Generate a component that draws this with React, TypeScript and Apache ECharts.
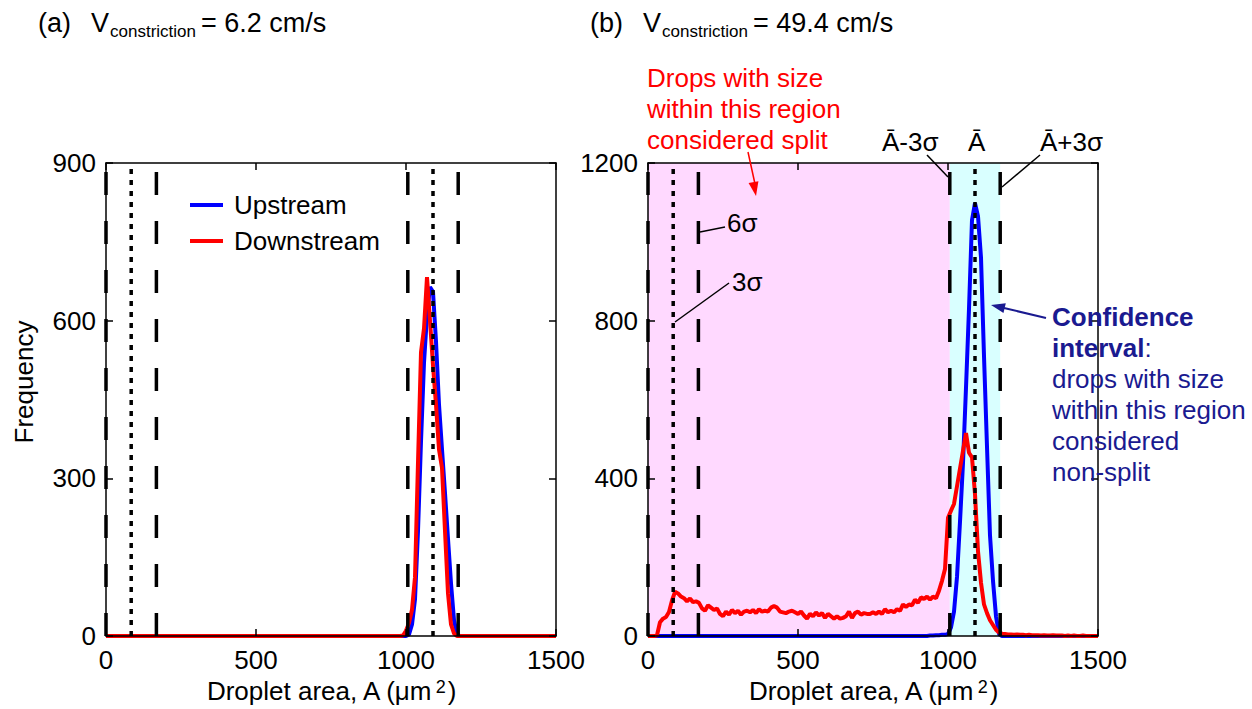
import { useEffect, useRef } from "react";
import * as echarts from "echarts";

const FONT = "'Liberation Sans', Arial, Helvetica, sans-serif";
const PINK = "#FFD9FF";
const CYAN = "#D9FFFF";
const NAVY = "#1A1A90";

// ---- panel (a): V = 6.2 cm/s ----
const leftBins = [0, 980, 990, 1000, 1010, 1020, 1030, 1040, 1050, 1060, 1070, 1080, 1090, 1100, 1110, 1120, 1130, 1140, 1150, 1160, 1170, 1180, 1500];
const leftUpstream = [0, 0, 0, 0, 3, 22, 70, 200, 370, 520, 610, 664, 655, 560, 440, 355, 272, 185, 100, 30, 3, 0, 0];
const leftDownstream = [0, 0, 1, 10, 25, 50, 112, 330, 540, 585, 683, 600, 515, 440, 355, 320, 200, 81, 22, 5, 0, 0, 0];

// ---- panel (b): V = 49.4 cm/s ----
const rightUpBins = [0, 930, 940, 950, 960, 970, 980, 990, 1000, 1010, 1020, 1030, 1040, 1050, 1060, 1070, 1080, 1090, 1100, 1110, 1120, 1130, 1140, 1150, 1160, 1170, 1180, 1500];
const rightUpstream = [0, 0, 1, 1, 2, 2, 3, 3, 5, 22, 62, 150, 290, 439, 630, 830, 1055, 1098, 1065, 960, 710, 480, 255, 140, 50, 5, 0, 0];
// histogram bins of 10 µm² from 0 to 1500
const rightDownBins = Array.from({ length: 151 }, (_, i) => i * 10);
const rightDownstream = [
  0, 0, 0, 2, 35, 44, 48, 61, 90, 112,
  108, 100, 96, 88, 95, 86, 88, 84, 70, 64,
  78, 72, 66, 70, 56, 50, 62, 54, 66, 58,
  64, 54, 62, 64, 60, 66, 58, 68, 62, 64,
  62, 72, 76, 72, 62, 60, 58, 62, 64, 60,
  56, 62, 52, 44, 56, 50, 60, 52, 58, 46,
  56, 50, 44, 50, 44, 46, 50, 62, 46, 58,
  62, 54, 58, 56, 56, 60, 56, 62, 56, 68,
  60, 64, 60, 68, 64, 80, 74, 80, 78, 92,
  84, 98, 94, 100, 92, 100, 96, 115, 140, 170,
  300, 318, 335, 380, 425, 470, 515, 465, 453, 360,
  215, 135, 80, 58, 40, 28, 16, 9, 6, 5,
  4, 4, 3, 4, 3, 3, 2, 3, 2, 2,
  2, 1, 2, 1, 1, 2, 1, 1, 1, 0,
  1, 0, 1, 0, 0, 1, 0, 0, 0, 0,
  0,
];

// reference lines (µm²): 3σ, 6σ, Ā-3σ, Ā, Ā+3σ
const dashedLines = [0, 168, 1006, 1174];
const dottedLines = [84, 1090];
const splitRegion = [0, 1006];
const confidenceRegion = [1006, 1174];

const leftYMax = 900;
const leftYInterval = 300;
const rightYMax = 1200;
const rightYInterval = 400;

const pairs = (xs: number[], ys: number[]) => xs.map((x, i) => [x, ys[i]]);

function buildOption() {
  const axisLine = { show: true, onZero: false, lineStyle: { color: "#000", width: 1.5 } };
  const axisTick = { show: true, inside: true, length: 7, lineStyle: { color: "#000", width: 1.5 } };
  const label = { fontSize: 26, color: "#000", fontFamily: FONT, formatter: (v: number) => String(v) };

  const xBase = {
    type: "value",
    min: 0,
    max: 1500,
    interval: 500,
    axisLine,
    axisTick,
    splitLine: { show: false },
    z: 10,
  };
  const xName = {
    name: "Droplet area, A (μm{sup|2})",
    nameLocation: "middle",
    nameGap: 40,
    nameTextStyle: {
      fontSize: 26,
      color: "#000",
      fontFamily: FONT,
      rich: { sup: { fontSize: 18, color: "#000", fontFamily: FONT, verticalAlign: "top", padding: [0, 2, 0, 3] } },
    },
  };

  const xAxis = [
    { ...xBase, ...xName, gridIndex: 0, position: "bottom", axisLabel: { ...label, margin: 11 } },
    { ...xBase, ...xName, gridIndex: 1, position: "bottom", axisLabel: { ...label, margin: 11 } },
    { ...xBase, gridIndex: 0, position: "top", axisLabel: { show: false } },
    { ...xBase, gridIndex: 1, position: "top", axisLabel: { show: false } },
  ];
  const yBase = { type: "value", min: 0, axisLine, axisTick, splitLine: { show: false }, z: 10 };
  const yAxis = [
    { ...yBase, gridIndex: 0, position: "left", max: leftYMax, interval: leftYInterval, axisLabel: { ...label, margin: 10 } },
    { ...yBase, gridIndex: 1, position: "left", max: rightYMax, interval: rightYInterval, axisLabel: { ...label, margin: 10 } },
    { ...yBase, gridIndex: 0, position: "right", max: leftYMax, interval: leftYInterval, axisLabel: { show: false } },
    { ...yBase, gridIndex: 1, position: "right", max: rightYMax, interval: rightYInterval, axisLabel: { show: false } },
  ];

  const curve = (name: string, color: string, data: number[][], idx: number, z: number) => ({
    type: "line",
    name,
    xAxisIndex: idx,
    yAxisIndex: idx,
    data,
    showSymbol: false,
    symbol: "none",
    z,
    lineStyle: { color, width: 4 },
    itemStyle: { color },
    emphasis: { disabled: true },
  });

  const vline = (x: number, ymax: number, idx: number, dashed: boolean) => ({
    type: "line",
    name: "ref",
    xAxisIndex: idx,
    yAxisIndex: idx,
    data: [
      [x, 0],
      [x, ymax],
    ],
    showSymbol: false,
    symbol: "none",
    clip: false,
    silent: true,
    z: 5,
    lineStyle: { color: "#000", width: dashed ? 3.5 : 3.5, type: dashed ? [23, 26] : [5, 6], cap: "butt" },
    emphasis: { disabled: true },
  });

  const series: any[] = [
    {
      type: "line",
      name: "regions",
      xAxisIndex: 1,
      yAxisIndex: 1,
      data: [
        [0, 0],
        [1500, 0],
      ],
      showSymbol: false,
      symbol: "none",
      silent: true,
      lineStyle: { opacity: 0, width: 0 },
      z: 1,
      markArea: {
        silent: true,
        data: [
          [
            { xAxis: splitRegion[0], yAxis: 0, itemStyle: { color: PINK } },
            { xAxis: splitRegion[1], yAxis: rightYMax },
          ],
          [
            { xAxis: confidenceRegion[0], yAxis: 0, itemStyle: { color: CYAN } },
            { xAxis: confidenceRegion[1], yAxis: rightYMax },
          ],
        ],
      },
    },
    curve("Upstream", "#0000FF", pairs(leftBins, leftUpstream), 0, 3),
    curve("Downstream", "#FF0000", pairs(leftBins, leftDownstream), 0, 3),
    curve("Upstream", "#0000FF", pairs(rightUpBins, rightUpstream), 1, 3),
    curve("Downstream", "#FF0000", pairs(rightDownBins, rightDownstream), 1, 3),
  ];
  for (const idx of [0, 1]) {
    const ymax = idx === 0 ? leftYMax : rightYMax;
    dashedLines.forEach((x) => series.push(vline(x, ymax, idx, true)));
    dottedLines.forEach((x) => series.push(vline(x, ymax, idx, false)));
  }

  const txt = (text: string, x: number, y: number, extra: any = {}) => ({
    type: "text",
    x,
    y,
    silent: true,
    z: 20,
    style: { text, fontSize: 26, fontFamily: FONT, fill: "#000", verticalAlign: "middle", ...extra },
  });
  const seg = (x1: number, y1: number, x2: number, y2: number, stroke = "#000", w = 1.5) => ({
    type: "line",
    silent: true,
    z: 20,
    shape: { x1, y1, x2, y2 },
    style: { stroke, lineWidth: w },
  });
  const arrowHead = (tx: number, ty: number, fx: number, fy: number, fill: string) => {
    const dx = tx - fx;
    const dy = ty - fy;
    const len = Math.hypot(dx, dy);
    const ux = dx / len;
    const uy = dy / len;
    const bx = tx - ux * 14;
    const by = ty - uy * 14;
    const px = -uy * 5;
    const py = ux * 5;
    return {
      type: "polygon",
      silent: true,
      z: 20,
      shape: {
        points: [
          [tx, ty],
          [bx + px, by + py],
          [bx - px, by - py],
        ],
      },
      style: { fill },
    };
  };

  const title = (base: number, tag: string, value: string) => [
    txt(tag, base, 23, { fontSize: 27 }),
    txt("V", base + 53, 23, { fontSize: 27 }),
    txt("constriction", base + 72, 31, { fontSize: 17 }),
    txt(value, base + 163, 23, { fontSize: 27 }),
  ];

  const graphic: any[] = [
    ...title(38, "(a)", "= 6.2 cm/s"),
    ...title(590, "(b)", "= 49.4 cm/s"),
    {
      type: "text",
      x: 24,
      y: 382,
      rotation: Math.PI / 2,
      silent: true,
      style: { text: "Frequency", fontSize: 26, fontFamily: FONT, fill: "#000", align: "center", verticalAlign: "middle" },
    },
    txt("Drops with size\nwithin this region\nconsidered split", 647, 62, {
      fill: "#FF0000",
      verticalAlign: "top",
      lineHeight: 31,
    }),
    seg(748, 152, 755, 184, "#FF0000", 1.5),
    arrowHead(756, 196, 748, 152, "#FF0000"),
    txt("6σ", 727, 223),
    seg(700, 232, 725, 227),
    txt("3σ", 732, 282),
    seg(675, 322, 729, 283),
    txt("Ā-3σ", 882, 142),
    seg(927, 155, 948, 177),
    txt("Ā", 968, 142),
    txt("Ā+3σ", 1040, 142),
    seg(1040, 155, 1002, 187),
    seg(1046, 318, 1004, 308, NAVY, 2),
    arrowHead(991, 305, 1046, 318, NAVY),
    {
      type: "text",
      x: 1052,
      y: 301.5,
      silent: true,
      z: 20,
      style: {
        text: "{b|Confidence}\n{b|interval}:\ndrops with size\nwithin this region\nconsidered\nnon-split",
        fontSize: 26,
        fontFamily: FONT,
        fill: NAVY,
        lineHeight: 31,
        verticalAlign: "top",
        rich: { b: { fontWeight: "bold", fontSize: 26, fontFamily: FONT, fill: NAVY, lineHeight: 31 } },
      },
    },
  ];

  return {
    animation: false,
    backgroundColor: "#fff",
    textStyle: { fontFamily: FONT },
    grid: [
      { left: 106, top: 163, width: 450, height: 473, containLabel: false },
      { left: 648, top: 163, width: 450, height: 473, containLabel: false },
    ],
    legend: {
      data: ["Upstream", "Downstream"],
      orient: "vertical",
      left: 185,
      top: 187,
      itemWidth: 33,
      itemHeight: 4,
      itemGap: 10,
      icon: "rect",
      selectedMode: false,
      textStyle: { fontSize: 26, color: "#000", fontFamily: FONT, padding: [0, 0, 0, 6] },
    },
    xAxis,
    yAxis,
    series,
    graphic,
  };
}

export default function App() {
  const ref = useRef<HTMLDivElement>(null);
  useEffect(() => {
    document.body.style.margin = "0";
    if (!ref.current) return;
    const chart = echarts.init(ref.current, undefined, { renderer: "svg" });
    chart.setOption(buildOption() as any);
    return () => chart.dispose();
  }, []);
  return <div ref={ref} style={{ width: 1252, height: 709 }} />;
}
